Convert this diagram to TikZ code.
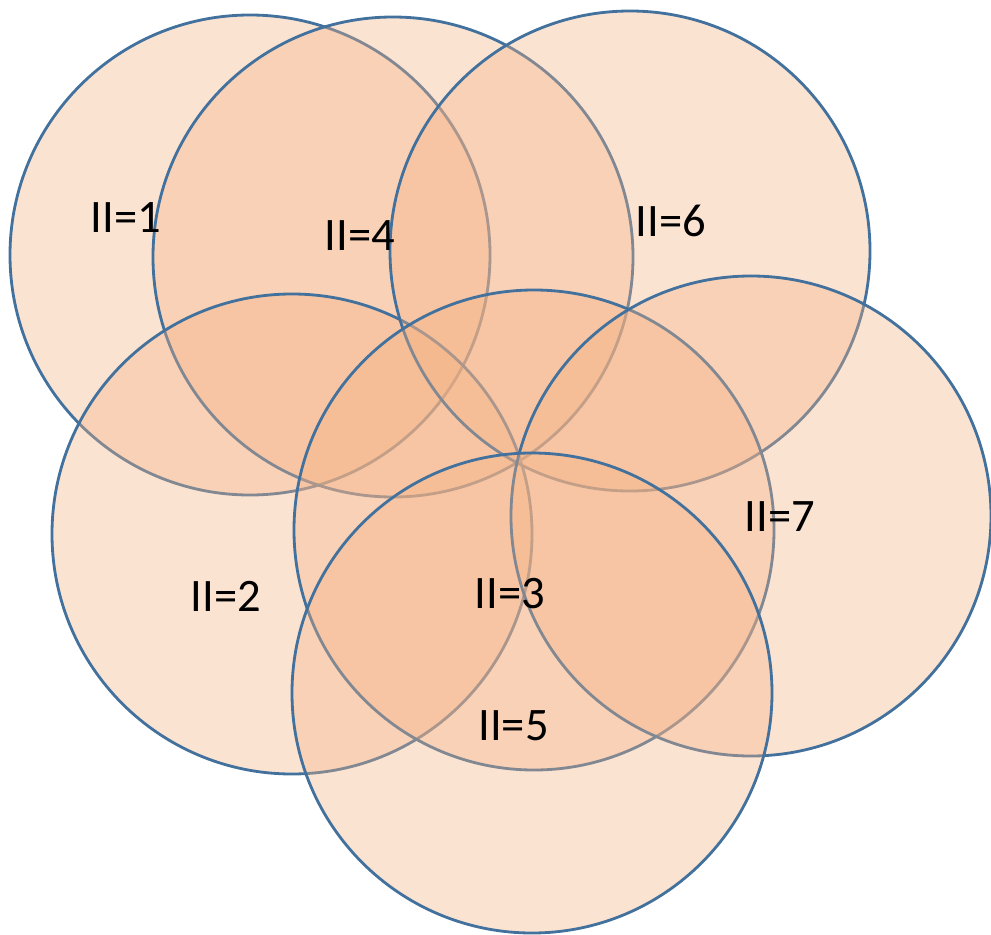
\documentclass[tikz,border=0pt]{standalone}
\usepackage{fontspec}
\setmainfont{Carlito}
\definecolor{ringfill}{HTML}{F4B183}
\definecolor{ringline}{HTML}{41719C}

\begin{document}
\begin{tikzpicture}[
		scale=1,
		every node/.style={circle, draw=ringline, line width=1.6pt, fill=ringfill, fill opacity=0.36, draw opacity=1, minimum size=9.6cm, inner sep=0pt},
		zone label/.style={draw=none, fill=none, rectangle, minimum size=0pt, fill opacity=1, text opacity=1, font=\fontsize{26.5}{30}\selectfont}
	]
  \useasboundingbox (0cm, 0cm) rectangle (19.82cm, -18.7cm);
  % rings, in stacking order
  \node (r_1) at (5.00cm, -5.10cm) {};
  \node (r_4) at (7.86cm, -5.14cm) {};
  \node (r_2) at (5.84cm, -10.68cm) {};
  \node (r_6) at (12.60cm, -5.02cm) {};
  \node (r_3) at (10.68cm, -10.60cm) {};
  \node (r_7) at (15.02cm, -10.32cm) {};
  \node (r_5) at (10.64cm, -13.86cm) {};
  % labels
  \node (l_1) [zone label] at (2.52cm, -4.36cm) {II=1};
  \node (l_4) [zone label] at (7.20cm, -4.72cm) {II=4};
  \node (l_6) [zone label] at (13.42cm, -4.42cm) {II=6};
  \node (l_2) [zone label] at (4.52cm, -11.92cm) {II=2};
  \node (l_3) [zone label] at (10.20cm, -11.87cm) {II=3};
  \node (l_7) [zone label] at (15.60cm, -10.34cm) {II=7};
  \node (l_5) [zone label] at (10.27cm, -14.51cm) {II=5};
\end{tikzpicture}
\end{document}
